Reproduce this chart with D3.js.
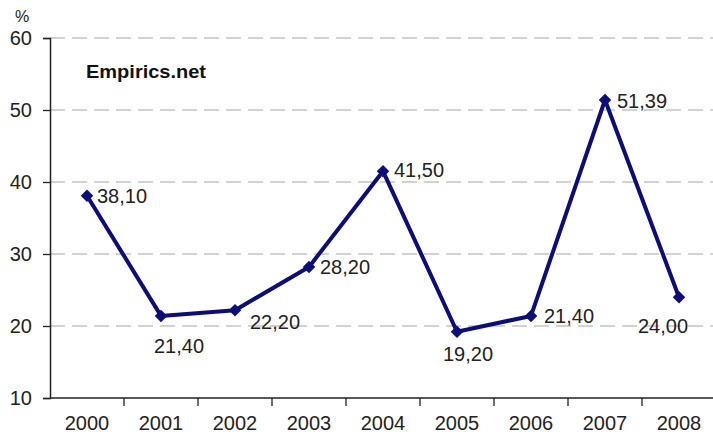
<!DOCTYPE html>
<html>
<head>
<meta charset="utf-8">
<script src="https://cdn.jsdelivr.net/npm/d3@7"></script>
<style>
  html, body { margin: 0; padding: 0; background: #fff; }
  svg { display: block; font-family: "Liberation Sans", Arial, sans-serif; }
</style>
</head>
<body>
<svg id="chart" width="713" height="439"></svg>
<script>
// Annual rate, %
const years = ["2000", "2001", "2002", "2003", "2004", "2005", "2006", "2007", "2008"];
const values = [38.10, 21.40, 22.20, 28.20, 41.50, 19.20, 21.40, 51.39, 24.00];
const yTicks = [10, 20, 30, 40, 50, 60];
// Value label offsets from each marker (dx, dy)
const labelOffsets = [[10, 0], [-7, 30], [15, 12], [11, 0], [11, -1], [-14, 22], [13, 0], [12, 1], [-41, 29]];

const svg = d3.select("#chart");
const plotLeft = 50, plotTop = 38, plotBottom = 398, bandW = 74;

const x = d3.scaleBand().domain(years).range([plotLeft, plotLeft + bandW * years.length]).padding(0);
const y = d3.scaleLinear().domain([10, 60]).range([plotBottom, plotTop]);

// Dashed horizontal gridlines
svg.append("g")
  .selectAll("line")
  .data(yTicks.filter(t => t > 10))
  .join("line")
  .attr("x1", plotLeft).attr("x2", 713)
  .attr("y1", d => y(d)).attr("y2", d => y(d))
  .attr("stroke", "#c4c4c4")
  .attr("stroke-width", 1.5)
  .attr("stroke-dasharray", "15,7");

// Y axis
const yAxis = svg.append("g")
  .attr("transform", `translate(${plotLeft},0)`)
  .call(d3.axisLeft(y).tickValues(yTicks).tickSize(7).tickPadding(11).tickFormat(d3.format("d")));
yAxis.select(".domain").attr("stroke", "#222").attr("stroke-width", 1.5);
yAxis.selectAll(".tick line").attr("stroke", "#222").attr("stroke-width", 1.3);
yAxis.selectAll(".tick text").attr("font-size", 20).attr("fill", "#222")
  .attr("font-family", "Liberation Sans, Arial, sans-serif");

// X axis with ticks on band boundaries
const xAxis = svg.append("g")
  .attr("transform", `translate(0,${plotBottom})`);
xAxis.append("line")
  .attr("x1", plotLeft).attr("x2", 713).attr("y1", 0).attr("y2", 0)
  .attr("stroke", "#222").attr("stroke-width", 1.5);
xAxis.selectAll("line.tk")
  .data(years.slice(1))
  .join("line").attr("class", "tk")
  .attr("x1", d => x(d)).attr("x2", d => x(d))
  .attr("y1", 0).attr("y2", 8)
  .attr("stroke", "#222").attr("stroke-width", 1.3);
xAxis.selectAll("text")
  .data(years)
  .join("text")
  .attr("x", d => x(d) + x.bandwidth() / 2)
  .attr("y", 32)
  .attr("text-anchor", "middle")
  .attr("font-size", 20)
  .attr("fill", "#222")
  .text(d => d);

// Unit label
svg.append("text")
  .attr("x", 22).attr("y", 22)
  .attr("text-anchor", "middle")
  .attr("font-size", 16)
  .attr("fill", "#222")
  .text("%");

// Watermark
svg.append("text")
  .attr("x", 86).attr("y", 78)
  .attr("font-size", 18.5)
  .attr("font-weight", "bold")
  .attr("fill", "#111")
  .attr("textLength", 120)
  .attr("lengthAdjust", "spacingAndGlyphs")
  .text("Empirics.net");

const cx = d => x(d) + x.bandwidth() / 2;

// Series line
const line = d3.line()
  .x((d, i) => cx(years[i]))
  .y(d => y(d));
svg.append("path")
  .datum(values)
  .attr("d", line)
  .attr("fill", "none")
  .attr("stroke", "#0d0d78")
  .attr("stroke-width", 4)
  .attr("stroke-linejoin", "round");

// Diamond markers
svg.append("g")
  .selectAll("path")
  .data(values)
  .join("path")
  .attr("transform", (d, i) => `translate(${cx(years[i])},${y(d)})`)
  .attr("d", d3.symbol().type(d3.symbolDiamond2).size(100))
  .attr("fill", "#0d0d78");

// Value labels
const fmt = v => v.toFixed(2).replace(".", ",");
svg.append("g")
  .selectAll("text")
  .data(values)
  .join("text")
  .attr("x", (d, i) => cx(years[i]) + labelOffsets[i][0])
  .attr("y", (d, i) => y(d) + labelOffsets[i][1])
  .attr("dominant-baseline", "central")
  .attr("font-size", 20)
  .attr("fill", "#222")
  .text(fmt);
</script>
</body>
</html>
